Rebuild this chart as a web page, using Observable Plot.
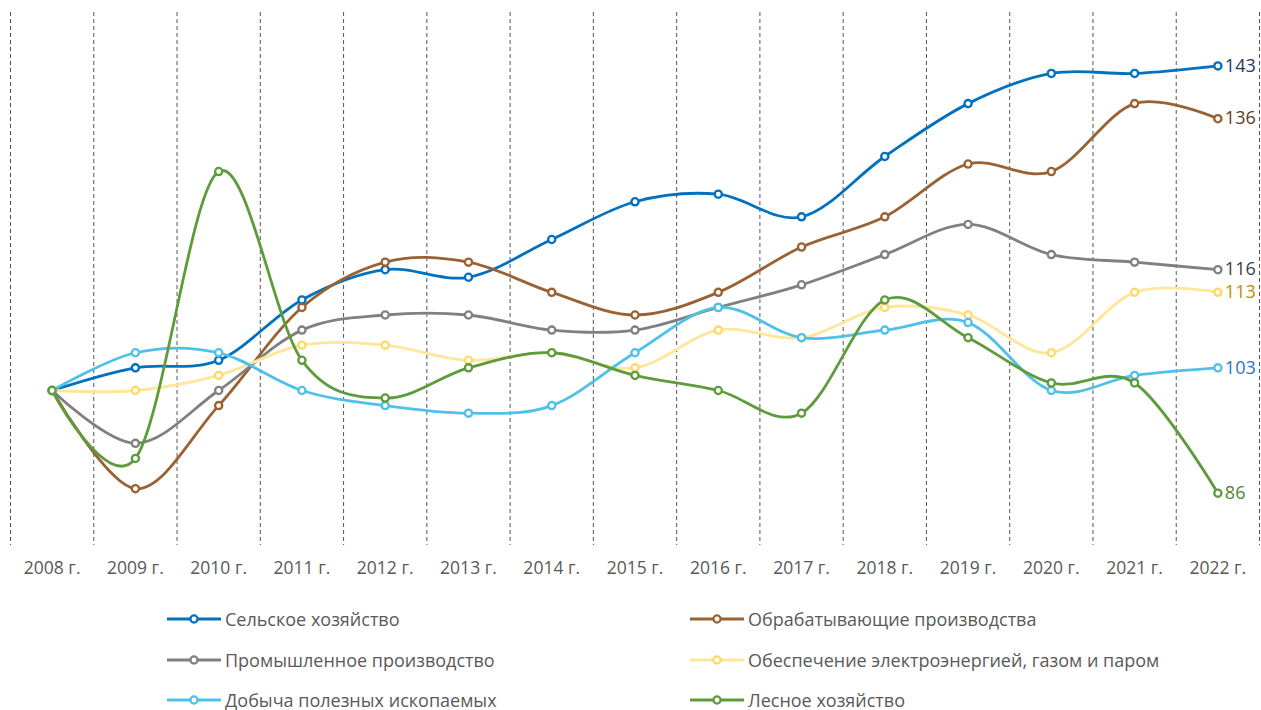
<!DOCTYPE html>
<html>
<head>
<meta charset="utf-8">
<script src="https://cdn.jsdelivr.net/npm/d3@7"></script>
<script src="https://cdn.jsdelivr.net/npm/@observablehq/plot@0.6"></script>
<style>
  body { margin: 0; background: #fff; font-family: "Open Sans", sans-serif; }
  #chart svg { display: block; }
  #legend {
    display: grid;
    grid-template-columns: 523px 520px;
    grid-auto-rows: 40.5px;
    padding-left: 167px;
    padding-top: 9px;
    color: #595959;
    font-size: 18px;
  }
  .item { display: flex; align-items: center; }
  .item svg { margin-right: 4px; flex: none; }
</style>
</head>
<body>
<div id="chart"></div>
<div id="legend"></div>
<script>
// ---- data ----
const years = [2008, 2009, 2010, 2011, 2012, 2013, 2014, 2015, 2016, 2017, 2018, 2019, 2020, 2021, 2022];
const tickSuffix = " г.";

const seriesNames = [
  "Сельское хозяйство",
  "Обрабатывающие производства",
  "Промышленное производство",
  "Обеспечение электроэнергией, газом и паром",
  "Добыча полезных ископаемых",
  "Лесное хозяйство"
];

const agriculture   = [100, 103, 104, 112, 116, 115, 120, 125, 126, 123, 131, 138, 142, 142, 143];
const manufacturing = [100,  87,  98, 111, 117, 117, 113, 110, 113, 119, 123, 130, 129, 138, 136];
const industrial    = [100,  93, 100, 108, 110, 110, 108, 108, 111, 114, 118, 122, 118, 117, 116];
const electricity   = [100, 100, 102, 106, 106, 104, 105, 103, 108, 107, 111, 110, 105, 113, 113];
const mining        = [100, 105, 105, 100,  98,  97,  98, 105, 111, 107, 108, 109, 100, 102, 103];
const forestry      = [100,  91, 129, 104,  99, 103, 105, 102, 100,  97, 112, 107, 101, 101, 86.4];

const seriesValues = [agriculture, manufacturing, industrial, electricity, mining, forestry];

const lineColors   = ["#0070C0", "#9A6232", "#808080", "#FFE699", "#4FC1E9", "#5E9B3C"];
const markerColors = ["#0070C0", "#9A6232", "#808080", "#FFD966", "#4FC1E9", "#5E9B3C"];
const labelColors  = ["#1F3864", "#5C3D1E", "#404040", "#BF9000", "#1F78C8", "#548235"];

// ---- build table ----
const rows = [];
seriesNames.forEach((name, i) => {
  seriesValues[i].forEach((v, j) => rows.push({series: name, idx: i, year: years[j], value: v}));
});
const lastYear = years[years.length - 1];
const lastRows = rows.filter(d => d.year === lastYear);
const boundaries = years.map(y => y - 0.5).concat([lastYear + 0.5]);

const marks = [
  Plot.ruleX(boundaries, {stroke: "#555", strokeWidth: 1, strokeDasharray: "4,3"})
];
seriesNames.forEach((name, i) => {
  const data = rows.filter(d => d.idx === i);
  marks.push(Plot.line(data, {x: "year", y: "value", stroke: lineColors[i], strokeWidth: 2.8, curve: "cardinal"}));
  marks.push(Plot.dot(data, {x: "year", y: "value", r: 3.6, fill: "white", stroke: markerColors[i], strokeWidth: 2.3}));
});
marks.push(Plot.text(lastRows, {
  x: "year", y: "value", text: d => String(Math.round(d.value)),
  fill: d => labelColors[d.idx], textAnchor: "start", dx: 7, fontSize: 18
}));
marks.push(Plot.axisX({ticks: years, tickFormat: d => d + tickSuffix, tickSize: 0, tickPadding: 16, fontSize: 17.5, label: null}));

const chart = Plot.plot({
  width: 1261,
  height: 590,
  marginLeft: 10,
  marginRight: 2,
  marginTop: 12,
  marginBottom: 45,
  x: {type: "linear", domain: [years[0] - 0.5, lastYear + 0.5], label: null},
  y: {domain: [79.47, 150.07], axis: null},
  style: {fontFamily: "Open Sans, sans-serif", color: "#595959", background: "white", overflow: "visible"},
  marks
});
document.getElementById("chart").appendChild(chart);

// ---- legend ----
const legend = document.getElementById("legend");
seriesNames.forEach((name, i) => {
  const item = document.createElement("div");
  item.className = "item";
  item.innerHTML =
    `<svg width="54" height="12"><line x1="0" y1="6" x2="54" y2="6" stroke="${lineColors[i]}" stroke-width="2.8"/>` +
    `<circle cx="27" cy="6" r="3.6" fill="white" stroke="${markerColors[i]}" stroke-width="2.3"/></svg>` +
    `<span>${name}</span>`;
  legend.appendChild(item);
});
</script>
</body>
</html>
